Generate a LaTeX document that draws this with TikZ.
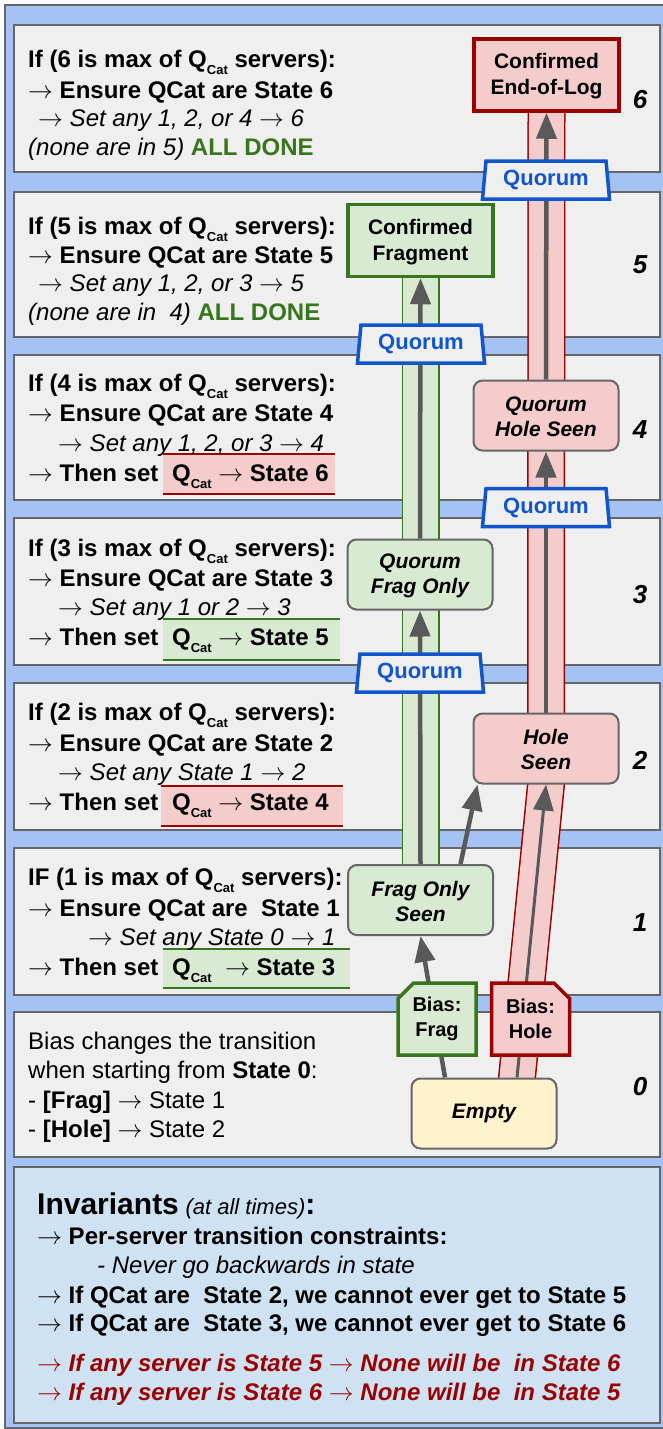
\documentclass[tikz,border=0pt]{standalone}
\usepackage{fontspec}
\setmainfont{Liberation Sans}
\usetikzlibrary{arrows.meta,calc,shapes.geometric,shapes.misc}

\definecolor{outerblue}{HTML}{A4C2F4}
\definecolor{panelfill}{HTML}{EFEFEF}
\definecolor{panelline}{HTML}{666666}
\definecolor{invfill}{HTML}{CFE2F3}
\definecolor{redfill}{HTML}{F4CCCC}
\definecolor{redline}{HTML}{990000}
\definecolor{greenfill}{HTML}{D9EAD3}
\definecolor{greenline}{HTML}{38761D}
\definecolor{yellowfill}{HTML}{FFF2CC}
\definecolor{qblue}{HTML}{1155CC}
\definecolor{arrowgray}{HTML}{595959}

\newcommand{\qc}{Q\raisebox{-7pt}{\fontsize{13}{13}\selectfont Cat}}
\newcommand{\rarr}{{\mdseries\upshape$\rightarrow$}}

\pgfdeclarelayer{back}
\pgfdeclarelayer{pipes}
\pgfsetlayers{back,pipes,main}

\tikzset{
  panel/.style={draw=panelline, fill=panelfill, line width=1.5},
  txt/.style={inner sep=0, anchor=base west, font=\bfseries\fontsize{24}{29}\selectfont},
  txtit/.style={inner sep=0, anchor=base west, font=\itshape\fontsize{24}{29}\selectfont},
  txtrm/.style={inner sep=0, anchor=base west, font=\fontsize{24}{29}\selectfont},
  txtbi/.style={inner sep=0, anchor=base west, font=\bfseries\itshape\fontsize{24}{29}\selectfont},
  statebox/.style={rectangle, rounded corners=9, draw=panelline, line width=2,
    minimum width=145, minimum height=70, inner sep=0, align=center,
    font=\bfseries\itshape\fontsize{21}{25}\selectfont},
  confbox/.style={rectangle, line width=3.5, minimum width=145, minimum height=72,
    inner sep=0, align=center, font=\bfseries\fontsize{21}{26}\selectfont},
  quorum/.style={trapezium, trapezium left angle=80, trapezium right angle=80,
    trapezium stretches body=true, minimum width=127, minimum height=38,
    draw=qblue, line width=3.5, fill=panelfill, text=qblue, inner sep=0,
    font=\bfseries\fontsize{22}{22}\selectfont},
  bias/.style={chamfered rectangle, chamfered rectangle xsep=12, minimum width=78,
    minimum height=72, line width=3.5, inner sep=0, align=center,
    font=\bfseries\fontsize{20}{25}\selectfont},
  hlbox/.style={rectangle, inner sep=0, minimum height=40},
  statenum/.style={inner sep=0, font=\bfseries\itshape\fontsize{26}{26}\selectfont},
  conn/.style={draw=arrowgray, line width=4.5, -{Triangle[width=20pt,length=26pt]}},
}

\begin{document}
\begin{tikzpicture}[x=1pt,y=-1pt]
\useasboundingbox (0,0) rectangle (663,1429);

\begin{pgfonlayer}{back}
\draw[fill=outerblue, draw=panelline, line width=1.5] (5,5) rectangle (690,1428);
\draw[panel] (14,25) rectangle (660,172);
\draw[panel] (14,192) rectangle (660,337);
\draw[panel] (14,355) rectangle (660,500);
\draw[panel] (14,518) rectangle (660,665);
\draw[panel] (14,683) rectangle (660,830);
\draw[panel] (14,848) rectangle (660,995);
\draw[panel] (14,1012) rectangle (660,1157);
\draw[panel, fill=invfill] (14,1167) rectangle (660,1423);
\end{pgfonlayer}

% states
\node[confbox, draw=redline, fill=redfill] (confeol) at (546.5,75) {\strut Confirmed\\End-of-Log};
\node[confbox, draw=greenline, fill=greenfill] (conffrag) at (420.5,240.5) {\strut Confirmed\\Fragment};
\node[statebox, fill=redfill] (qhole) at (546,415.5) {\strut Quorum\\Hole Seen};
\node[statebox, fill=greenfill] (qfrag) at (420,574.5) {\strut Quorum\\Frag Only};
\node[statebox, fill=redfill] (hole2) at (546,748.5) {\strut Hole\\Seen};
\node[statebox, fill=greenfill] (frag1) at (420.5,900) {\strut Frag Only\\Seen};
\node[statebox, fill=yellowfill] (empty) at (484,1113.5) {Empty};

\node[quorum] (q65) at (546,180) {Quorum};
\node[quorum] (q54) at (421,344) {Quorum};
\node[quorum] (q43) at (546,507.5) {Quorum};
\node[quorum] (q32) at (420,673) {Quorum};

\node[bias, draw=greenline, fill=greenfill, chamfered rectangle corners=north west] (biasfrag) at (437,1019) {Bias:\\Frag};
\node[bias, draw=redline, fill=redfill, chamfered rectangle corners=north east] (biashole) at (530.5,1019) {Bias:\\Hole};

\coordinate (redfoot) at ($(empty.north)+(33,0)$);

\begin{pgfonlayer}{pipes}
\draw[line width=38, greenline, shorten <=-6, shorten >=-6] (frag1.north) -- (conffrag.south);
\draw[line width=35, greenfill, shorten <=-6, shorten >=-6] (frag1.north) -- (conffrag.south);
\draw[line width=38, redline, shorten <=-6, shorten >=-6] (redfoot) -- (hole2.south);
\draw[line width=35, redfill, shorten <=-6, shorten >=-6] (redfoot) -- (hole2.south);
\draw[line width=38, redline, shorten <=-6, shorten >=-6] (hole2.north) -- (confeol.south);
\draw[line width=35, redfill, shorten <=-6, shorten >=-6] (hole2.north) -- (confeol.south);

\draw[conn] (frag1.north) -- (qfrag.south);
\draw[conn] (qfrag.north) -- (conffrag.south);
\draw[conn] (hole2.north) -- (qhole.south);
\draw[conn] (qhole.north) -- (confeol.south);
\draw[conn, line width=3] (redfoot) -- (hole2.south);
\draw[conn] ($(empty.north)+(-39,0)$) -- (frag1.south);
\draw[conn] ($(frag1.north)+(40,0)$) -- ($(hole2.south west)+(5,0)$);
\end{pgfonlayer}

% highlight boxes
\node[hlbox, fill=redfill, minimum width=172] (h4) at (249,474) {};
\node[hlbox, fill=greenfill, minimum width=177, minimum height=41] (h3) at (251.5,639.5) {};
\node[hlbox, fill=redfill, minimum width=182] (h2) at (252,806) {};
\node[hlbox, fill=greenfill, minimum width=187, minimum height=39] (h1) at (256.5,968.5) {};
\foreach \n/\c in {h4/redline,h3/greenline,h2/redline,h1/greenline}
  \draw[\c, line width=1.5] (\n.north west) -- (\n.north east) (\n.south west) -- (\n.south east);

% level 6
\node[txt] (t6a) at (28,67) {If (6 is max of \qc\ servers):};
\node[txt] (t6b) at (28,98) {\rarr\ Ensure QCat are State 6};
\node[txtit] (t6c) at (38,126) {\rarr\ Set any 1, 2, or 4 \rarr\ 6};
\node[txtit] (t6d) at (28,155) {(none are in 5) {\upshape\bfseries\color{greenline}ALL DONE}};

% level 5
\node[txt] (t5a) at (28,234) {If (5 is max of \qc\ servers):};
\node[txt] (t5b) at (28,263) {\rarr\ Ensure QCat are State 5};
\node[txtit] (t5c) at (38,291) {\rarr\ Set any 1, 2, or 3 \rarr\ 5};
\node[txtit] (t5d) at (28,320) {(none are in\ \ 4) {\upshape\bfseries\color{greenline}ALL DONE}};

% level 4
\node[txt] (t4a) at (28,391) {If (4 is max of \qc\ servers):};
\node[txt] (t4b) at (28,421) {\rarr\ Ensure QCat are State 4};
\node[txtit] (t4c) at (58,451) {\rarr\ Set any 1, 2, or 3 \rarr\ 4};
\node[txt] (t4d) at (28,481) {\rarr\ Then set\hspace{7pt} \qc\ \rarr\ State 6};

% level 3
\node[txt] (t3a) at (28,556) {If (3 is max of \qc\ servers):};
\node[txt] (t3b) at (28,586) {\rarr\ Ensure QCat are State 3};
\node[txtit] (t3c) at (58,615) {\rarr\ Set any 1 or 2 \rarr\ 3};
\node[txt] (t3d) at (28,645) {\rarr\ Then set\hspace{7pt} \qc\ \rarr\ State 5};

% level 2
\node[txt] (t2a) at (28,720) {If (2 is max of \qc\ servers):};
\node[txt] (t2b) at (28,751) {\rarr\ Ensure QCat are State 2};
\node[txtit] (t2c) at (58,780) {\rarr\ Set any State 1 \rarr\ 2};
\node[txt] (t2d) at (28,810) {\rarr\ Then set\hspace{7pt} \qc\ \rarr\ State 4};

% level 1
\node[txt] (t1a) at (28,885) {IF (1 is max of \qc\ servers):};
\node[txt] (t1b) at (28,916) {\rarr\ Ensure QCat are\ \ State 1};
\node[txtit] (t1c) at (88,945) {\rarr\ Set any State 0 \rarr\ 1};
\node[txt] (t1d) at (28,975) {\rarr\ Then set\hspace{7pt} \qc\ \ \rarr\ State 3};

% level 0
\node[txtrm] (t0a) at (28,1049) {Bias changes the transition};
\node[txtrm] (t0b) at (28,1078) {when starting from \textbf{State 0}:};
\node[txtrm] (t0c) at (28,1108) {- \textbf{[Frag]} \rarr\ State 1};
\node[txtrm] (t0d) at (28,1137) {- \textbf{[Hole]} \rarr\ State 2};

\foreach \n/\y in {6/100,5/265,4/430,3/595,2/760,1/923,0/1087}
  \node[statenum] (n\n) at (640,\y) {\n};

% invariants
\node[txt] (inv1) at (37,1214) {{\fontsize{30}{30}\selectfont Invariants} {\mdseries\itshape\fontsize{22}{22}\selectfont (at all times)}{\fontsize{30}{30}\selectfont :}};
\node[txt] (inv2) at (37,1244) {\rarr\ Per-server transition constraints:};
\node[txtit] (inv3) at (97,1273) {- Never go backwards in state};
\node[txt] (inv4) at (37,1303) {\rarr\ If QCat are\ \ State 2, we cannot ever get to State 5};
\node[txt] (inv5) at (37,1331) {\rarr\ If QCat are\ \ State 3, we cannot ever get to State 6};
\node[txtbi, text=redline] (inv6) at (37,1371) {\rarr\ If any server is State 5 \rarr\ None will be\ \ in State 6};
\node[txtbi, text=redline] (inv7) at (37,1400) {\rarr\ If any server is State 6 \rarr\ None will be\ \ in State 5};
\end{tikzpicture}
\end{document}
